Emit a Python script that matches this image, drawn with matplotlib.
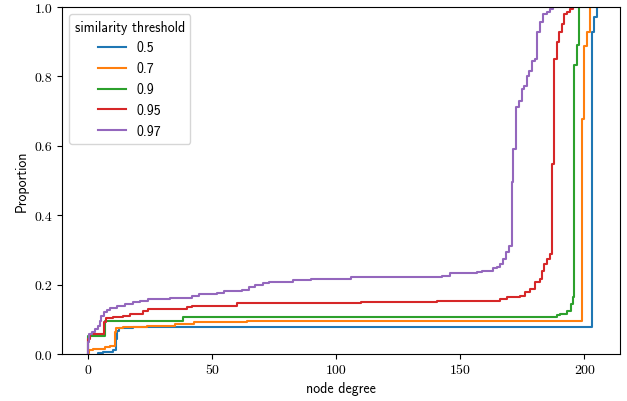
import matplotlib
matplotlib.use('Agg')
import matplotlib.pyplot as plt

# ecdf of node degree, one curve per similarity threshold
# each curve: degree where the step happens, proportion after the step
thresholds = ['0.5', '0.7', '0.9', '0.95', '0.97']
colors = ['#1f77b4', '#ff7f0e', '#2ca02c', '#d62728', '#9467bd']

deg_05 = [4.2, 6.2, 10.2, 11.2, 11.8, 12.5, 18.3, 203.0, 203.9, 205.0]
prop_05 = [0.003, 0.007, 0.012, 0.043, 0.067, 0.074, 0.077, 0.927, 0.970, 1.0]

deg_07 = [0, 0.6, 2.2, 6.9, 8.9, 10.8, 11.5, 14.3, 23.7, 35.1, 42.7, 64.0,
          199.1, 200.0, 201.3, 202.3]
prop_07 = [0.003, 0.010, 0.014, 0.019, 0.022, 0.064, 0.074, 0.077, 0.082, 0.085, 0.091, 0.095,
           0.677, 0.888, 0.927, 1.0]

deg_09 = [0, 7.0, 38.4, 189.0, 190.2, 193.2, 194.5, 195.3, 195.9, 196.9, 198.0]
prop_09 = [0.053, 0.096, 0.107, 0.111, 0.115, 0.125, 0.144, 0.163, 0.834, 0.890, 1.0]

deg_095 = [0, 0.8, 6.5, 7.3, 10.2, 14.3, 17.0, 22.3, 24.3, 39.8, 42.0, 60.0, 110.0, 140.8,
           166.0, 168.7, 174.0, 176.0, 178.0, 180.1, 182.2, 182.8, 183.8, 184.8, 186.2,
           186.9, 188.0, 189.1, 189.8, 190.9, 191.8, 192.9, 194.2, 195.6]
prop_095 = [0.043, 0.058, 0.091, 0.103, 0.106, 0.110, 0.115, 0.125, 0.130, 0.134, 0.139, 0.146, 0.149, 0.154,
            0.158, 0.163, 0.168, 0.178, 0.187, 0.207, 0.216, 0.240, 0.260, 0.274, 0.288,
            0.548, 0.850, 0.900, 0.927, 0.951, 0.980, 0.987, 0.993, 1.0]

deg_097 = [0, 0.6, 1.5, 2.9, 4.2, 4.9, 5.5, 6.5, 7.6, 8.9, 11.6, 15.0, 18.3, 21.0, 24.3,
           33.0, 41.8, 44.9, 51.9, 54.8, 62.0, 65.0, 67.3, 70.7, 73.1, 82.8, 89.8, 105.9,
           142.8, 145.9, 156.6, 158.9, 163.3, 164.7, 166.0, 167.4, 168.5, 169.6, 170.7,
           171.4, 172.5, 173.8, 174.8, 175.8, 176.8, 177.8, 178.8, 180.1, 181.1, 182.2,
           183.2, 184.8, 186.2, 187.3]
prop_097 = [0.034, 0.058, 0.062, 0.072, 0.082, 0.096, 0.110, 0.120, 0.128, 0.132, 0.139, 0.144, 0.149, 0.154, 0.157,
            0.162, 0.166, 0.172, 0.176, 0.181, 0.185, 0.192, 0.199, 0.204, 0.208, 0.212, 0.217, 0.221,
            0.226, 0.233, 0.235, 0.240, 0.247, 0.252, 0.259, 0.274, 0.293, 0.312, 0.495,
            0.591, 0.711, 0.730, 0.764, 0.773, 0.802, 0.816, 0.845, 0.850, 0.927, 0.956,
            0.980, 0.987, 0.994, 1.0]

curves = [(deg_05, prop_05), (deg_07, prop_07), (deg_09, prop_09),
          (deg_095, prop_095), (deg_097, prop_097)]

plt.rcParams['font.family'] = ['cmss10', 'DejaVu Sans']
plt.rcParams['font.size'] = 10
plt.rcParams['axes.formatter.use_mathtext'] = True

fig = plt.figure(figsize=(6.27, 4.02), dpi=100)
ax = fig.add_axes([0.0989, 0.117, 0.8907, 0.863])

for (deg, prop), lab, col in zip(curves, thresholds, colors):
  xs = [deg[0]] + deg
  ys = [0] + prop
  ax.step(xs, ys, where='post', color=col, lw=1.5, label=lab)

ax.set_xlim(-10.4, 214.6)
ax.set_ylim(0, 1)
ax.set_xticks([0, 50, 100, 150, 200], ['0', '50', '100', '150', '200'], fontfamily='cmr10')
ax.set_yticks([0, 0.2, 0.4, 0.6, 0.8, 1.0], ['0.0', '0.2', '0.4', '0.6', '0.8', '1.0'], fontfamily='cmr10')
ax.set_xlabel('node degree')
ax.set_ylabel('Proportion')
ax.legend(title='similarity threshold', loc='upper left')

fig.savefig('out.png', dpi=100)
